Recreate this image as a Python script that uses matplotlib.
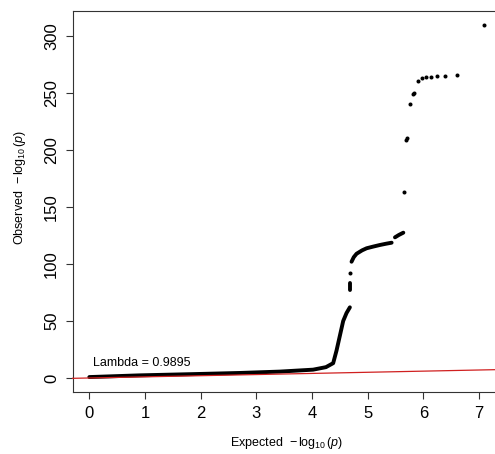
import numpy as np
import matplotlib.pyplot as plt

plt.rcParams['font.family'] = ['Liberation Sans', 'DejaVu Sans']
plt.rcParams['mathtext.fontset'] = 'custom'
plt.rcParams['mathtext.rm'] = 'Liberation Sans'
plt.rcParams['mathtext.it'] = 'Liberation Sans:italic'

# dense part of the QQ curve (expected, observed)
dense_x = [0.0, 0.9, 1.87, 2.7, 3.42, 4.02, 4.25, 4.38, 4.44, 4.5, 4.56, 4.62, 4.68]
dense_y = [0.8, 2.3, 3.4, 4.4, 5.6, 7.3, 9.5, 13.0, 24.0, 37.0, 50.0, 57.0, 62.0]

mid1_x = [4.69, 4.69]
mid1_y = [77.0, 83.0]

mid2_x = [4.71, 4.75, 4.8, 4.9, 4.98, 5.1, 5.22, 5.33, 5.43]
mid2_y = [102.0, 106.0, 109.0, 112.0, 113.8, 115.3, 116.7, 117.8, 118.7]

mid3_x = [5.49, 5.56, 5.64]
mid3_y = [123.4, 125.5, 127.5]

# isolated points
top_x = [4.69, 5.65, 5.69, 5.70, 5.76, 5.82, 5.84, 5.91, 5.97, 6.04, 6.13, 6.24, 6.39, 6.6, 7.09]
top_y = [92.0, 163.0, 209.0, 211.0, 240.0, 249.5, 250.0, 260.8, 263.4, 264.3, 264.3, 265.0, 265.0, 265.6, 310.0]

lambda_val = 0.9895

fig = plt.figure(figsize=(4.95, 4.54), dpi=100)
ax = fig.add_axes([73 / 495, 62 / 454, 440 / 495, 381 / 454])

for xs, ys in [(dense_x, dense_y), (mid1_x, mid1_y), (mid2_x, mid2_y), (mid3_x, mid3_y)]:
    ax.plot(xs, ys, color='black', lw=2.8, solid_capstyle='round', solid_joinstyle='round', zorder=2)
ax.plot(top_x, top_y, 'o', color='black', ms=2.9, mew=0, zorder=2)

# expected line y = x
ax.plot([-0.3, 7.61], [-0.3, 7.61], color='#d02020', lw=0.9, zorder=3, clip_on=False)

ax.text(0.07, 13.4, f"Lambda = {lambda_val}", fontsize=9, ha='left', va='center')

ax.set_xlim(-0.293, 7.61)
ax.set_ylim(-12.3, 322)
ax.set_xticks(range(0, 8))
ax.set_yticks(range(0, 301, 50))
ax.tick_params(axis='both', labelsize=12, length=5, width=0.8, color='#333333', pad=5)
plt.setp(ax.get_yticklabels(), rotation=90, va='center')
for s in ax.spines.values():
    s.set_color('#333333')
    s.set_linewidth(0.8)

ax.set_xlabel(r'Expected  $-\,\log_{10}(\mathit{p})$', fontsize=9, va='center')
ax.set_ylabel(r'Observed  $-\,\log_{10}(\mathit{p})$', fontsize=9, va='center')
ax.xaxis.set_label_coords(0.485, -0.133)
ax.yaxis.set_label_coords(-0.12, 0.538)

fig.savefig('out.png', dpi=100)
